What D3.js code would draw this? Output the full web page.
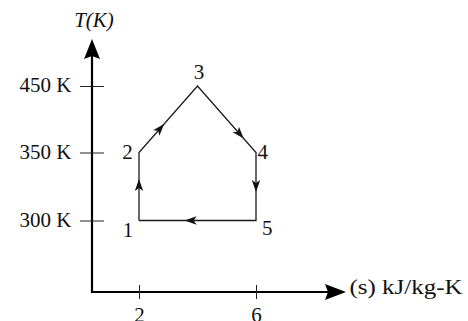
<!DOCTYPE html>
<html>
<head>
<meta charset="utf-8">
<script src="https://cdn.jsdelivr.net/npm/d3@7/dist/d3.min.js"></script>
<style>
  html, body { margin: 0; padding: 0; background: #fff; }
  svg { display: block; }
  text { font-family: "Liberation Serif", "Times New Roman", serif; fill: #111; }
</style>
</head>
<body>
<svg id="chart" width="468" height="321"></svg>
<script>
// Cycle states on the T-s diagram
const stateNames = ["1", "2", "3", "4", "5"];
const entropy = [2, 2, 4, 6, 6];          // s, kJ/kg-K
const temperature = [300, 350, 450, 350, 300]; // T, K

// Axis ticks
const sTicks = [2, 6];
const sTickLabels = ["2", "6"];
const tTicks = [300, 350, 450];
const tTickLabels = ["300 K", "350 K", "450 K"];

const W = 468, H = 321;
const svg = d3.select("#chart");

// Horizontal scale; the axis origin sits a little left of s = 2
const x = d3.scaleLinear().domain([2, 6]).range([139, 256]);
// Temperature ticks are drawn evenly spaced, so the scale is piecewise
const y = d3.scaleLinear().domain(tTicks).range([220.5, 152.5, 86]);

const originX = 92, originY = 292;
const xAxisEnd = 346, yAxisEnd = 39;
const fontSize = 21;

// ---- axes -------------------------------------------------------------
const axisColor = "#000";

// main axis lines
svg.append("line")
  .attr("x1", originX).attr("y1", originY)
  .attr("x2", xAxisEnd - 14).attr("y2", originY)
  .attr("stroke", axisColor).attr("stroke-width", 2.2);
svg.append("line")
  .attr("x1", originX).attr("y1", originY + 1)
  .attr("x2", originX).attr("y2", yAxisEnd + 14)
  .attr("stroke", axisColor).attr("stroke-width", 2.2);

// big arrowheads at the axis ends
svg.append("path")
  .attr("d", `M${xAxisEnd},${originY} L${xAxisEnd - 21},${originY - 8} L${xAxisEnd - 18},${originY} L${xAxisEnd - 21},${originY + 8} Z`)
  .attr("fill", axisColor);
svg.append("path")
  .attr("d", `M${originX},${yAxisEnd} L${originX - 8},${yAxisEnd + 20} L${originX},${yAxisEnd + 17} L${originX + 8},${yAxisEnd + 20} Z`)
  .attr("fill", axisColor);

// bottom axis: ticks cross the line
const xAxis = d3.axisBottom(x)
  .tickValues(sTicks)
  .tickFormat((d, i) => sTickLabels[i])
  .tickSize(7)
  .tickPadding(8.5);
const gx = svg.append("g")
  .attr("transform", `translate(0,${originY})`)
  .call(xAxis);
gx.select(".domain").remove();
gx.selectAll(".tick line").attr("y1", -7).attr("stroke", "#222").attr("stroke-width", 1);
gx.selectAll(".tick text")
  .attr("font-family", "Liberation Serif, serif")
  .attr("font-size", fontSize).attr("fill", "#111");

// left axis
const yAxis = d3.axisLeft(y)
  .tickValues(tTicks)
  .tickFormat((d, i) => tTickLabels[i])
  .tickSize(12)
  .tickPadding(8.5);
const gy = svg.append("g")
  .attr("transform", `translate(${originX},0)`)
  .call(yAxis);
gy.select(".domain").remove();
gy.selectAll(".tick line").attr("x1", 12).attr("stroke", "#222").attr("stroke-width", 1);
gy.selectAll(".tick text")
  .attr("font-family", "Liberation Serif, serif")
  .attr("font-size", fontSize).attr("fill", "#111")
  .attr("dy", "0.27em");

// axis titles
svg.append("text")
  .attr("x", 94).attr("y", 27)
  .attr("text-anchor", "middle")
  .attr("font-size", fontSize)
  .attr("font-style", "italic")
  .text("T(K)");

svg.append("text")
  .attr("x", 349.5).attr("y", 294)
  .attr("font-size", fontSize)
  .attr("textLength", 113)
  .attr("lengthAdjust", "spacingAndGlyphs")
  .text("(s) kJ/kg-K");

// ---- cycle ------------------------------------------------------------
const pts = stateNames.map((n, i) => ({ name: n, s: entropy[i], t: temperature[i] }));
const closed = pts.concat([pts[0]]);

const line = d3.line().x(d => x(d.s)).y(d => y(d.t));
svg.append("path")
  .attr("d", line(closed))
  .attr("fill", "none")
  .attr("stroke", "#1a1a1a")
  .attr("stroke-width", 1.3)
  .attr("stroke-linejoin", "miter");

// direction arrows: where along each leg the arrow tip sits
const arrowAt = [0.61, 0.43, 0.79, 0.58, 0.61];
const arrowLen = 12, arrowHalf = 4.2;
for (let i = 0; i < pts.length; i++) {
  const a = pts[i], b = closed[i + 1];
  const x0 = x(a.s), y0 = y(a.t), x1 = x(b.s), y1 = y(b.t);
  const f = arrowAt[i];
  const tx = x0 + (x1 - x0) * f, ty = y0 + (y1 - y0) * f;
  const ang = Math.atan2(y1 - y0, x1 - x0) * 180 / Math.PI;
  svg.append("path")
    .attr("transform", `translate(${tx},${ty}) rotate(${ang})`)
    .attr("d", `M0,0 L${-arrowLen},${-arrowHalf} L${-arrowLen + 3},0 L${-arrowLen},${arrowHalf} Z`)
    .attr("fill", "#111");
}

// state numbers
const labelPlace = [
  { dx: -11, dy: 16, anchor: "middle" },
  { dx: -11.5, dy: 6.5, anchor: "middle" },
  { dx: 1.5, dy: -7, anchor: "middle" },
  { dx: 1.5, dy: 6, anchor: "start" },
  { dx: 6, dy: 14.5, anchor: "start" }
];
svg.selectAll("text.state")
  .data(pts)
  .join("text")
  .attr("class", "state")
  .attr("x", (d, i) => x(d.s) + labelPlace[i].dx)
  .attr("y", (d, i) => y(d.t) + labelPlace[i].dy)
  .attr("text-anchor", (d, i) => labelPlace[i].anchor)
  .attr("font-size", fontSize)
  .text(d => d.name);
</script>
</body>
</html>
